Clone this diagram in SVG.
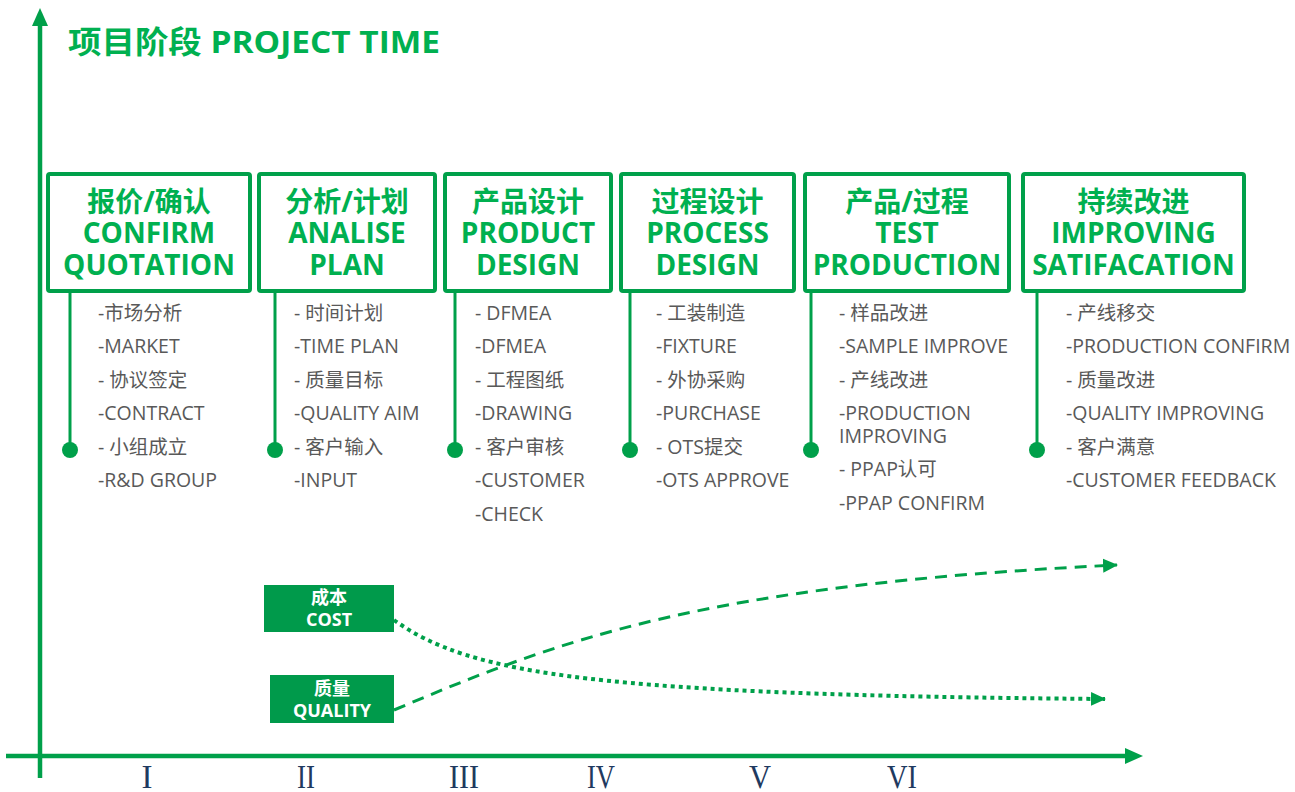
<svg xmlns="http://www.w3.org/2000/svg" width="1295" height="792" viewBox="0 0 1295 792">
<style>
.box{fill:#fff;stroke:#00A04A;stroke-width:4}
.bt{font-family:"Open Sans","Noto Sans CJK SC",sans-serif;font-weight:bold;font-size:28px;fill:#00B050;text-anchor:middle}
.li{font-family:"Open Sans","Noto Sans CJK SC",sans-serif;font-size:19.5px;fill:#595959}
.stem{stroke:#00A04A;stroke-width:3;fill:none}
.dot{fill:#00A04A}
.axis{stroke:#00A04A;stroke-width:4.5;fill:none}
.rn{font-family:"Liberation Serif","DejaVu Serif",serif;font-size:33px;fill:#1F3A60;text-anchor:middle}
.tag{fill:#009A4B}
.tt{font-family:"Open Sans","Noto Sans CJK SC",sans-serif;font-weight:bold;font-size:18px;fill:#fff;text-anchor:middle}
</style>
<defs>
<marker id="ah" markerWidth="16" markerHeight="16" refX="14" refY="8" orient="auto" markerUnits="userSpaceOnUse">
<path d="M0,1 L15,8 L0,15 Z" fill="#00A04A"/>
</marker>
</defs>
<rect width="1295" height="792" fill="#fff"/>

<g id="axes">
<line class="axis" x1="40" y1="22" x2="40" y2="778"/>
<path d="M40,8 L48,26 L32,26 Z" fill="#00A04A"/>
<line class="axis" x1="6" y1="756" x2="1128" y2="756"/>
<path d="M1143,756 L1125,764 L1125,748 Z" fill="#00A04A"/>
</g>

<g id="title">
<text x="68" y="53" font-family="'Open Sans','Noto Sans CJK SC',sans-serif" font-weight="bold" font-size="31" fill="#00B050" textLength="372" lengthAdjust="spacingAndGlyphs">项目阶段 PROJECT TIME</text>
</g>

<g id="connectors">
<line class="stem" x1="70" y1="293" x2="70" y2="450"/><circle class="dot" cx="70" cy="450" r="8"/>
<line class="stem" x1="275" y1="293" x2="275" y2="450"/><circle class="dot" cx="275" cy="450" r="8"/>
<line class="stem" x1="455" y1="293" x2="455" y2="450"/><circle class="dot" cx="455" cy="450" r="8"/>
<line class="stem" x1="630" y1="293" x2="630" y2="450"/><circle class="dot" cx="630" cy="450" r="8"/>
<line class="stem" x1="811" y1="293" x2="811" y2="450"/><circle class="dot" cx="811" cy="450" r="8"/>
<line class="stem" x1="1037" y1="293" x2="1037" y2="450"/><circle class="dot" cx="1037" cy="450" r="8"/>
<path d="M394,620 C470,675 600,695 1105,699" fill="none" stroke="#00A04A" stroke-width="4" stroke-dasharray="4 4" marker-end="url(#ah)"/>
<path d="M394,710 C560,640 700,585 1117,565" fill="none" stroke="#00A04A" stroke-width="3" stroke-dasharray="12 8" marker-end="url(#ah)"/>
</g>

<g id="stage1">
<rect class="box" x="48" y="174" width="202" height="117" rx="2"/>
<text class="bt" x="149" y="212">报价/确认</text>
<text class="bt" x="149" y="243">CONFIRM</text>
<text class="bt" x="149" y="275">QUOTATION</text>
<text class="li" x="98" y="320">-市场分析</text>
<text class="li" x="98" y="353">-MARKET</text>
<text class="li" x="98" y="387">- 协议签定</text>
<text class="li" x="98" y="420">-CONTRACT</text>
<text class="li" x="98" y="454">- 小组成立</text>
<text class="li" x="98" y="487">-R&amp;D GROUP</text>
</g>

<g id="stage2">
<rect class="box" x="259" y="174" width="176" height="117" rx="2"/>
<text class="bt" x="347" y="212">分析/计划</text>
<text class="bt" x="347" y="243">ANALISE</text>
<text class="bt" x="347" y="275">PLAN</text>
<text class="li" x="294" y="320">- 时间计划</text>
<text class="li" x="294" y="353">-TIME PLAN</text>
<text class="li" x="294" y="387">- 质量目标</text>
<text class="li" x="294" y="420">-QUALITY AIM</text>
<text class="li" x="294" y="454">- 客户输入</text>
<text class="li" x="294" y="487">-INPUT</text>
</g>

<g id="stage3">
<rect class="box" x="445" y="174" width="166" height="117" rx="2"/>
<text class="bt" x="528" y="212">产品设计</text>
<text class="bt" x="528" y="243">PRODUCT</text>
<text class="bt" x="528" y="275">DESIGN</text>
<text class="li" x="475" y="320">- DFMEA</text>
<text class="li" x="475" y="353">-DFMEA</text>
<text class="li" x="475" y="387">- 工程图纸</text>
<text class="li" x="475" y="420">-DRAWING</text>
<text class="li" x="475" y="454">- 客户审核</text>
<text class="li" x="475" y="487">-CUSTOMER</text>
<text class="li" x="475" y="521">-CHECK</text>
</g>

<g id="stage4">
<rect class="box" x="621" y="174" width="173" height="117" rx="2"/>
<text class="bt" x="707.5" y="212">过程设计</text>
<text class="bt" x="707.5" y="243">PROCESS</text>
<text class="bt" x="707.5" y="275">DESIGN</text>
<text class="li" x="656" y="320">- 工装制造</text>
<text class="li" x="656" y="353">-FIXTURE</text>
<text class="li" x="656" y="387">- 外协采购</text>
<text class="li" x="656" y="420">-PURCHASE</text>
<text class="li" x="656" y="454">- OTS提交</text>
<text class="li" x="656" y="487">-OTS APPROVE</text>
</g>

<g id="stage5">
<rect class="box" x="805" y="174" width="204" height="117" rx="2"/>
<text class="bt" x="907" y="212">产品/过程</text>
<text class="bt" x="907" y="243">TEST</text>
<text class="bt" x="907" y="275">PRODUCTION</text>
<text class="li" x="839" y="320">- 样品改进</text>
<text class="li" x="839" y="353">-SAMPLE IMPROVE</text>
<text class="li" x="839" y="387">- 产线改进</text>
<text class="li" x="839" y="420">-PRODUCTION</text>
<text class="li" x="839" y="443">IMPROVING</text>
<text class="li" x="839" y="476">- PPAP认可</text>
<text class="li" x="839" y="510">-PPAP CONFIRM</text>
</g>

<g id="stage6">
<rect class="box" x="1023" y="174" width="221" height="117" rx="2"/>
<text class="bt" x="1133.5" y="212">持续改进</text>
<text class="bt" x="1133.5" y="243">IMPROVING</text>
<text class="bt" x="1133.5" y="275">SATIFACATION</text>
<text class="li" x="1066" y="320">- 产线移交</text>
<text class="li" x="1066" y="353">-PRODUCTION CONFIRM</text>
<text class="li" x="1066" y="387">- 质量改进</text>
<text class="li" x="1066" y="420">-QUALITY IMPROVING</text>
<text class="li" x="1066" y="454">- 客户满意</text>
<text class="li" x="1066" y="487">-CUSTOMER FEEDBACK</text>
</g>

<g id="cost">
<rect class="tag" x="264" y="585" width="130" height="47"/>
<text class="tt" x="329" y="604">成本</text>
<text class="tt" x="329" y="626">COST</text>
</g>

<g id="quality">
<rect class="tag" x="270" y="675" width="124" height="48"/>
<text class="tt" x="332" y="695">质量</text>
<text class="tt" x="332" y="717">QUALITY</text>
</g>

<g id="phases">
<text class="rn" x="147" y="788" textLength="11" lengthAdjust="spacingAndGlyphs">I</text>
<text class="rn" x="306" y="788" textLength="18" lengthAdjust="spacingAndGlyphs">II</text>
<text class="rn" x="464" y="788" textLength="30" lengthAdjust="spacingAndGlyphs">III</text>
<text class="rn" x="601" y="788" textLength="28" lengthAdjust="spacingAndGlyphs">IV</text>
<text class="rn" x="760" y="788" textLength="22" lengthAdjust="spacingAndGlyphs">V</text>
<text class="rn" x="902" y="788" textLength="30" lengthAdjust="spacingAndGlyphs">VI</text>
</g>
</svg>
